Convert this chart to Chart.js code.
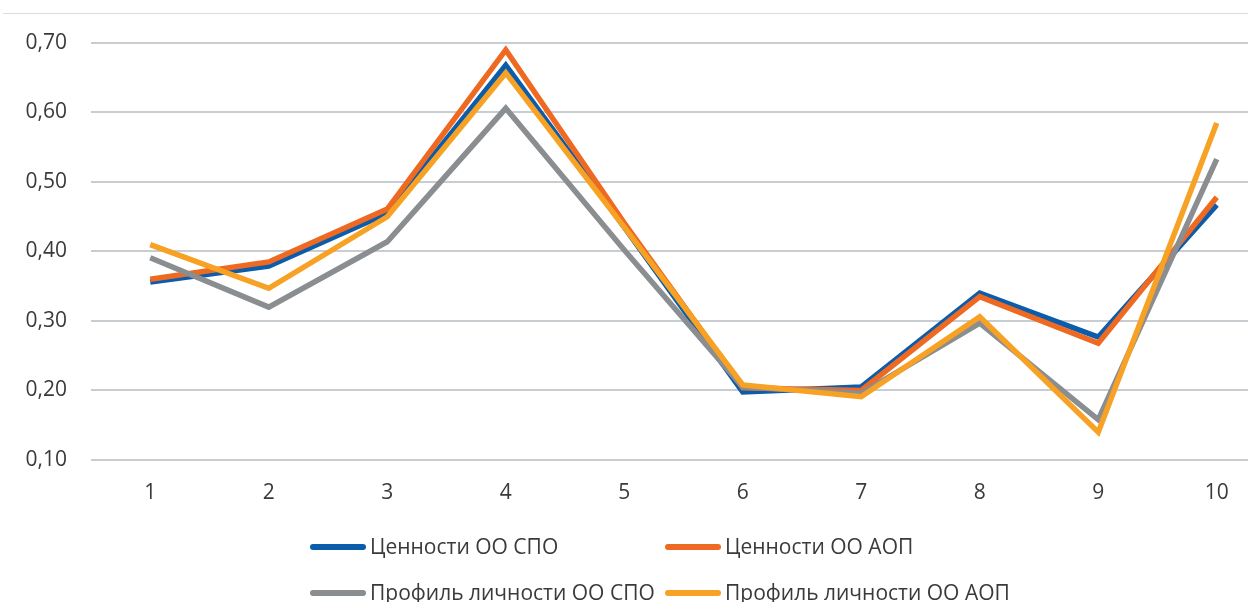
<!DOCTYPE html>
<html>
    <head>
        <title>Ценности и профиль личности</title>
        <meta charset="UTF-8">
        <script src="https://cdn.jsdelivr.net/npm/chart.js@4.4.0/dist/chart.umd.min.js"></script>
        <style>
            body { margin: 0; overflow: hidden; background: #fff; font-family: 'Open Sans', sans-serif; }
            .topLine { position: absolute; left: 3px; top: 13px; width: 1245px; border-top: 1px solid #dcdcdc; }
            .chartBox { position: absolute; left: 0; top: 0; width: 1294px; height: 602px; }
            .legendItem { position: absolute; font-size: 21px; color: #3a3a3a; white-space: nowrap; line-height: 26px; }
            .legendItem span.swatch { display: inline-block; width: 56px; height: 6px; border-radius: 3px; vertical-align: middle; margin-right: 4px; position: relative; top: -1px; }
        </style>
    </head>
    <body>
        <div class='topLine'></div>
        <div class='chartBox'><canvas id='myChart'></canvas></div>
        <div id='legend'></div>
        <script>
            // categories and series
            let categories = ['1', '2', '3', '4', '5', '6', '7', '8', '9', '10'];
            let valuesSpo   = [0.356, 0.379, 0.455, 0.668, 0.435, 0.198, 0.205, 0.340, 0.277, 0.467];
            let valuesAop   = [0.360, 0.385, 0.461, 0.690, 0.441, 0.204, 0.200, 0.335, 0.268, 0.478];
            let profileSpo  = [0.391, 0.320, 0.414, 0.606, 0.402, 0.205, 0.196, 0.297, 0.158, 0.533];
            let profileAop  = [0.410, 0.347, 0.450, 0.657, 0.435, 0.208, 0.191, 0.306, 0.140, 0.585];
            let seriesNames = ['Ценности ОО СПО', 'Ценности ОО АОП', 'Профиль личности ОО СПО', 'Профиль личности ОО АОП'];
            let yTicks = [0.1, 0.2, 0.3, 0.4, 0.5, 0.6, 0.7];

            let colours = ['#0b5cab', '#ee6a22', '#8a8e91', '#f7a125'];
            let seriesData = [valuesSpo, valuesAop, profileSpo, profileAop];
            // yellow drawn on top, blue at the bottom
            let drawOrder = [4, 3, 2, 1];

            let datasets = seriesData.map((d, i) => ({
                label: seriesNames[i],
                data: d,
                borderColor: colours[i],
                backgroundColor: colours[i],
                borderWidth: 5.5,
                pointRadius: 0,
                tension: 0,
                borderJoinStyle: 'miter',
                order: drawOrder[i]
            }));

            let ctx = document.getElementById('myChart').getContext('2d');
            let chart = new Chart(ctx, {
                type: 'line',
                data: { labels: categories, datasets: datasets },
                options: {
                    responsive: true,
                    maintainAspectRatio: false,
                    animation: false,
                    layout: { padding: { top: 43, right: 18, bottom: 92, left: 0 } },
                    plugins: { legend: { display: false }, tooltip: { enabled: false } },
                    scales: {
                        x: {
                            offset: true,
                            grid: { display: false, drawTicks: false, offset: true },
                            border: { display: false },
                            ticks: { padding: 20, color: '#3a3a3a', font: { family: 'Open Sans', size: 21 } },
                            afterFit: function (scale) { scale.height = 50; }
                        },
                        y: {
                            min: 0.1,
                            max: 0.7,
                            afterBuildTicks: function (scale) { scale.ticks = yTicks.map(v => ({ value: v })); },
                            grid: { color: '#c8cdd1', lineWidth: 2, drawTicks: false },
                            border: { display: false },
                            ticks: {
                                padding: 24,
                                color: '#3a3a3a',
                                font: { family: 'Open Sans', size: 21 },
                                callback: function (v) { return v.toFixed(2).replace('.', ','); }
                            },
                            afterFit: function (scale) { scale.width = 91; }
                        }
                    }
                }
            });

            // legend in two rows, two columns
            let legendPos = [[310, 533], [665, 533], [310, 579], [665, 579]];
            let html = '';
            seriesNames.forEach((name, i) => {
                html += "<div class='legendItem' style='left:" + legendPos[i][0] + "px;top:" + legendPos[i][1] + "px'>"
                     + "<span class='swatch' style='background:" + colours[i] + "'></span>" + name + "</div>";
            });
            document.getElementById('legend').innerHTML = html;
        </script>
    </body>
</html>
